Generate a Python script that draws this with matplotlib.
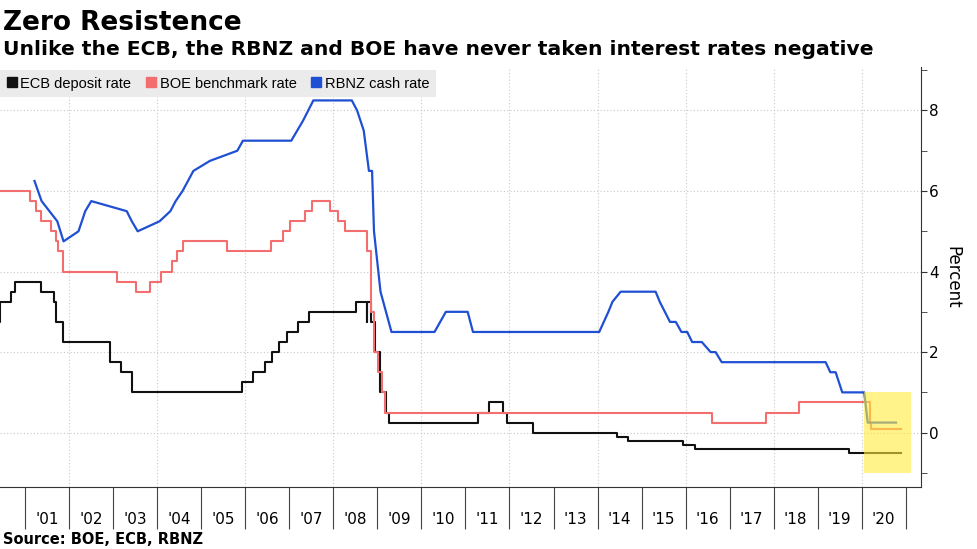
import numpy as np
import pandas as pd
import matplotlib
matplotlib.use("Agg")
import matplotlib.pyplot as plt
import matplotlib.dates as mdates
from matplotlib.lines import Line2D

# ECB deposit rate (step changes)
ecb_dates = ["2000-04-28", "2000-06-09", "2000-09-06", "2000-10-11", "2001-05-11",
             "2001-08-31", "2001-09-18", "2001-11-09", "2002-12-06", "2003-03-07",
             "2003-06-06", "2005-12-06", "2006-03-08", "2006-06-15", "2006-08-09",
             "2006-10-11", "2006-12-13", "2007-03-14", "2007-06-13", "2008-07-09",
             "2008-10-08", "2008-10-09", "2008-11-12", "2008-12-10", "2009-01-21",
             "2009-03-11", "2009-04-08", "2011-04-13", "2011-07-13", "2011-11-09",
             "2011-12-14", "2012-07-11", "2014-06-11", "2014-09-10", "2015-12-09",
             "2016-03-16", "2019-09-18", "2020-11-20"]
ecb_rates = [2.75, 3.25, 3.50, 3.75, 3.50,
             3.25, 2.75, 2.25, 1.75, 1.50,
             1.00, 1.25, 1.50, 1.75, 2.00,
             2.25, 2.50, 2.75, 3.00, 3.25,
             2.75, 3.25, 2.75, 2.00, 1.00,
             0.50, 0.25, 0.50, 0.75, 0.50,
             0.25, 0.00, -0.10, -0.20, -0.30,
             -0.40, -0.50, -0.50]

# BOE bank rate (step changes)
boe_dates = ["2000-02-10", "2001-02-08", "2001-04-05", "2001-05-10", "2001-08-02",
             "2001-09-18", "2001-10-04", "2001-11-08", "2003-02-06", "2003-07-10",
             "2003-11-06", "2004-02-05", "2004-05-06", "2004-06-10", "2004-08-05",
             "2005-08-04", "2006-08-03", "2006-11-09", "2007-01-11", "2007-05-10",
             "2007-07-05", "2007-12-06", "2008-02-07", "2008-04-10", "2008-10-08",
             "2008-11-06", "2008-12-04", "2009-01-08", "2009-02-05", "2009-03-05",
             "2016-08-04", "2017-11-02", "2018-08-02", "2020-03-11", "2020-03-19",
             "2020-11-20"]
boe_rates = [6.00, 5.75, 5.50, 5.25, 5.00,
             4.75, 4.50, 4.00, 3.75, 3.50,
             3.75, 4.00, 4.25, 4.50, 4.75,
             4.50, 4.75, 5.00, 5.25, 5.50,
             5.75, 5.50, 5.25, 5.00, 4.50,
             3.00, 2.00, 1.50, 1.00, 0.50,
             0.25, 0.50, 0.75, 0.25, 0.10,
             0.10]

# RBNZ cash rate (points joined by lines)
rbnz_dates = ["2001-03-20", "2001-05-18", "2001-09-25", "2001-11-16", "2002-03-20",
              "2002-04-17", "2002-05-15", "2002-07-04", "2003-04-24", "2003-06-05",
              "2003-07-24", "2004-01-22", "2004-04-20", "2004-06-03", "2004-07-30",
              "2004-10-28", "2005-03-15", "2005-10-27", "2005-12-13", "2007-01-18",
              "2007-04-26", "2007-07-20", "2008-06-03", "2008-07-17", "2008-09-10",
              "2008-10-23", "2008-11-18", "2008-12-04", "2009-01-27", "2009-04-28",
              "2010-04-20", "2010-07-23", "2011-01-20", "2011-03-05", "2014-01-15",
              "2014-04-01", "2014-05-05", "2014-07-12", "2015-04-28", "2015-06-01",
              "2015-08-25", "2015-10-12", "2015-11-28", "2016-01-15", "2016-02-25",
              "2016-05-15", "2016-07-27", "2016-09-06", "2016-10-27", "2019-03-08",
              "2019-04-16", "2019-05-30", "2019-07-24", "2020-01-22", "2020-02-20",
              "2020-10-12"]
rbnz_rates = [6.25, 5.75, 5.25, 4.75, 5.00,
              5.25, 5.50, 5.75, 5.50, 5.25,
              5.00, 5.25, 5.50, 5.75, 6.00,
              6.50, 6.75, 7.00, 7.25, 7.25,
              7.75, 8.25, 8.25, 8.00, 7.50,
              6.50, 6.50, 5.00, 3.50, 2.50,
              2.50, 3.00, 3.00, 2.50, 2.50,
              3.00, 3.25, 3.50, 3.50, 3.25,
              2.75, 2.75, 2.50, 2.50, 2.25,
              2.25, 2.00, 2.00, 1.75, 1.75,
              1.50, 1.50, 1.00, 1.00, 0.25,
              0.25]

years = list(range(2001, 2021))
year_labels = ["'%02d" % (y % 100) for y in years]

ecb = pd.to_datetime(ecb_dates)
boe = pd.to_datetime(boe_dates)
rbnz = pd.to_datetime(rbnz_dates)

fig = plt.figure(figsize=(9.77, 5.49), dpi=100)
ax = fig.add_axes([0, 1 - 487 / 549, 921 / 977, (487 - 67) / 549])

ax.plot(ecb, ecb_rates, drawstyle="steps-post", color="#111111", lw=1.5, zorder=3)
ax.plot(boe, boe_rates, drawstyle="steps-post", color="#f36f6f", lw=1.5, zorder=3)
ax.plot(rbnz, rbnz_rates, color="#1f4fd2", lw=1.6, zorder=4)

# highlight box for 2020
ax.fill_between(pd.to_datetime(["2020-01-20", "2021-02-16"]), -1, 1,
                color="#ffeb3b", alpha=0.6, lw=0, zorder=5)

ax.set_xlim(pd.Timestamp("2000-06-07"), pd.Timestamp("2021-05-07"))
ax.set_ylim(-1.35, 9.08)

for s in ["left", "top"]:
    ax.spines[s].set_visible(False)
ax.spines["right"].set_color("#333333")
ax.spines["bottom"].set_color("#333333")

# y axis on right
ax.yaxis.tick_right()
ax.yaxis.set_label_position("right")
ax.set_yticks([0, 2, 4, 6, 8])
ax.set_yticks([-1, 1, 3, 5, 7, 9], minor=True)
ax.tick_params(axis="y", which="both", length=4, color="#333333", labelsize=11, pad=2)
ax.grid(axis="y", which="major", linestyle=(0, (1, 2)), color="#c8c8c8", lw=0.8, zorder=0)
ax.set_ylabel("Percent", rotation=270, fontsize=12, labelpad=16)

# x axis: long ticks at year starts, labels mid-year
ax.xaxis.set_major_locator(mdates.YearLocator(1))
ax.xaxis.set_major_formatter(plt.NullFormatter())
mids = pd.to_datetime(["%d-07-02" % y for y in years])
ax.xaxis.set_minor_locator(plt.FixedLocator(mdates.date2num(mids)))
ax.xaxis.set_minor_formatter(plt.FixedFormatter(year_labels))
ax.tick_params(axis="x", which="major", length=30, color="#444444", width=0.8)
ax.tick_params(axis="x", which="minor", length=0, pad=18, labelsize=11)
for y in range(2002, 2021, 2):
    ax.axvline(pd.Timestamp("%d-01-01" % y), linestyle=(0, (1, 2)), color="#c8c8c8",
               lw=0.8, zorder=0)

# legend
handles = [Line2D([], [], marker="s", ls="", color=c, markersize=7.5)
           for c in ["#111111", "#f36f6f", "#1f4fd2"]]
leg = ax.legend(handles, ["ECB deposit rate", "BOE benchmark rate", "RBNZ cash rate"],
                loc="upper left", bbox_to_anchor=(0, 0.993), ncol=3, frameon=True,
                prop={"family": "Liberation Sans", "size": 10.5},
                handlelength=0.7, handletextpad=0.25, columnspacing=1.0,
                borderpad=0.45, borderaxespad=0, fancybox=False)
leg.get_frame().set_facecolor("#ebebeb")
leg.get_frame().set_edgecolor("none")
leg.get_frame().set_alpha(1)

fig.text(0.003, 0.945, "Zero Resistence", fontsize=19, fontweight="bold", ha="left", va="baseline")
fig.text(0.003, 0.9, "Unlike the ECB, the RBNZ and BOE have never taken interest rates negative",
         fontsize=14.6, fontweight="bold", ha="left", va="baseline")
fig.text(0.003, 0.009, "Source: BOE, ECB, RBNZ", fontsize=10.5, fontweight="bold", ha="left",
         va="baseline")

fig.savefig("out.png", dpi=100)
